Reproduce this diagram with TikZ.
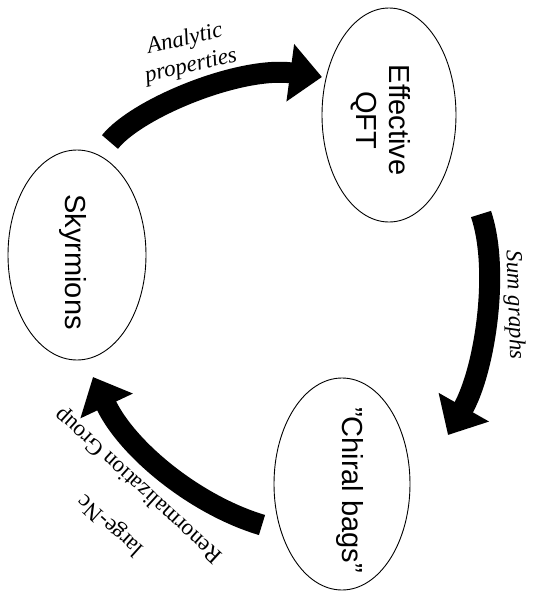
\documentclass[tikz,border=0pt]{standalone}
\usepackage{fontspec}
\setmainfont{Liberation Serif}
\setsansfont{Liberation Sans}
\usetikzlibrary{shapes.geometric,arrows.meta}
\newcommand\rgfont{\fontsize{23}{27}\selectfont}
\begin{document}
\begin{tikzpicture}[x=1pt,y=-1pt,
  bubble/.style={draw, ellipse, line width=0.9pt, inner sep=0pt},
  bubtext/.style={font=\sffamily\fontsize{29}{33}\selectfont, align=center, rotate=-90},
  bigarrow/.style={line width=21pt, -{Triangle[length=32pt,width=56pt]}},
  lab/.style={font=\itshape\fontsize{23}{27}\selectfont, align=center},
]
\useasboundingbox (0,0) rectangle (545,598);
% ellipses
\node[bubble, minimum width=134pt, minimum height=214pt] (qft) at (389,115) {};
\node[bubble, minimum width=138pt, minimum height=210pt] (sky) at (77,255) {};
\node[bubble, minimum width=136pt, minimum height=212pt] (chi) at (342,484) {};
% ellipse texts
\node[bubtext] (qftlab) at (381,120) {Effective\\QFT};
\node[bubtext] (skylab) at (73,262) {Skyrmions};
\node[bubtext] (chilab) at (350,490) {"Chiral bags"};
% arrow ends
\coordinate (a1s) at (110,142); \coordinate (a1p) at (137,108);
\coordinate (a1q) at (240,66);  \coordinate (a1e) at (322,77);
\coordinate (a2s) at (481,214); \coordinate (a2p) at (500,270);
\coordinate (a2q) at (485,370); \coordinate (a2e) at (448,435);
\coordinate (a3s) at (262,525); \coordinate (a3p) at (195,505);
\coordinate (a3q) at (127,449); \coordinate (a3e) at (93,377);
\draw[bigarrow] (a1s) .. controls (a1p) and (a1q) .. (a1e);
\draw[bigarrow] (a2s) .. controls (a2p) and (a2q) .. (a2e);
\draw[bigarrow] (a3s) .. controls (a3p) and (a3q) .. (a3e);
% labels
\node[lab, rotate=13] (anlab) at (188,53) {Analytic\\properties};
\node[lab, rotate=-88] (sglab) at (514,305) {Sum graphs};
\node[font=\rgfont, rotate=138] (nclab) at (111,525) {large-Nc};
\node[font=\rgfont, rotate=137.6] (rglab) at (139,485) {Renormalization Group};
\end{tikzpicture}
\end{document}
